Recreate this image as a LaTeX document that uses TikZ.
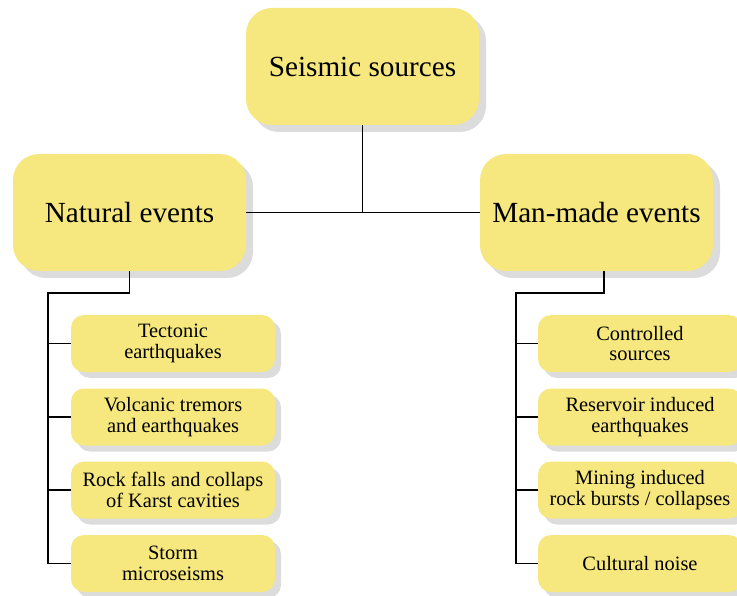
\documentclass[tikz,border=0pt]{standalone}
\usepackage{fontspec}
\setmainfont{Liberation Serif}
\usetikzlibrary{shadows}
\definecolor{boxfill}{HTML}{F6E87E}
\definecolor{shadowgray}{HTML}{DCDCDC}
\begin{document}
\begin{tikzpicture}[x=1pt,y=-1pt,
  bigbox/.style={fill=boxfill, draw=none, rounded corners=26pt, minimum width=233pt, minimum height=117pt,
    inner sep=0pt, font=\fontsize{29.2}{31}\selectfont,
    drop shadow={shadow xshift=7pt, shadow yshift=-7pt, fill=shadowgray, opacity=1}},
  smallbox/.style={fill=boxfill, draw=none, rounded corners=13pt, minimum width=204pt, minimum height=57pt,
    inner sep=0pt, align=center, font=\fontsize{20.4}{20.8}\selectfont,
    drop shadow={shadow xshift=6pt, shadow yshift=-6pt, fill=shadowgray, opacity=1}},
  link/.style={line width=1.3pt, draw=black}]
\useasboundingbox (0,0) rectangle (737,596);
\node[bigbox] (top) at (362.5,66.5) {Seismic sources};
\node[bigbox] (nat) at (129.5,212.5) {Natural events};
\node[bigbox] (man) at (596.5,212.5) {Man-made events};
\node[smallbox] (t1) at (173,343.5) {Tectonic\\earthquakes};
\node[smallbox] (t2) at (173,417) {Volcanic tremors\\and earthquakes};
\node[smallbox] (t3) at (173,490) {Rock falls and collaps\\of Karst cavities};
\node[smallbox] (t4) at (173,563.5) {Storm\\microseisms};
\node[smallbox] (m1) at (640,343.5) {Controlled\\sources};
\node[smallbox] (m2) at (640,417) {Reservoir induced\\earthquakes};
\node[smallbox] (m3) at (640,490) {Mining induced\\rock bursts / collapses};
\node[smallbox] (m4) at (640,563.5) {Cultural noise};
\coordinate (j) at (362.5,212.5);
\coordinate (nl) at (48,293);
\coordinate (nr) at (516,293);
\coordinate (mb) at (604,271);
\draw[link] (top.south) -- (j);
\draw[link] (nat.east) -- (man.west);
\draw[link] (nat.south) |- (nl) -- (nl |- t4.west) -- (t4.west);
\draw[link] (nl |- t1.west) -- (t1.west);
\draw[link] (nl |- t2.west) -- (t2.west);
\draw[link] (nl |- t3.west) -- (t3.west);
\draw[link] (mb) |- (nr) -- (nr |- m4.west) -- (m4.west);
\draw[link] (nr |- m1.west) -- (m1.west);
\draw[link] (nr |- m2.west) -- (m2.west);
\draw[link] (nr |- m3.west) -- (m3.west);
\end{tikzpicture}
\end{document}
